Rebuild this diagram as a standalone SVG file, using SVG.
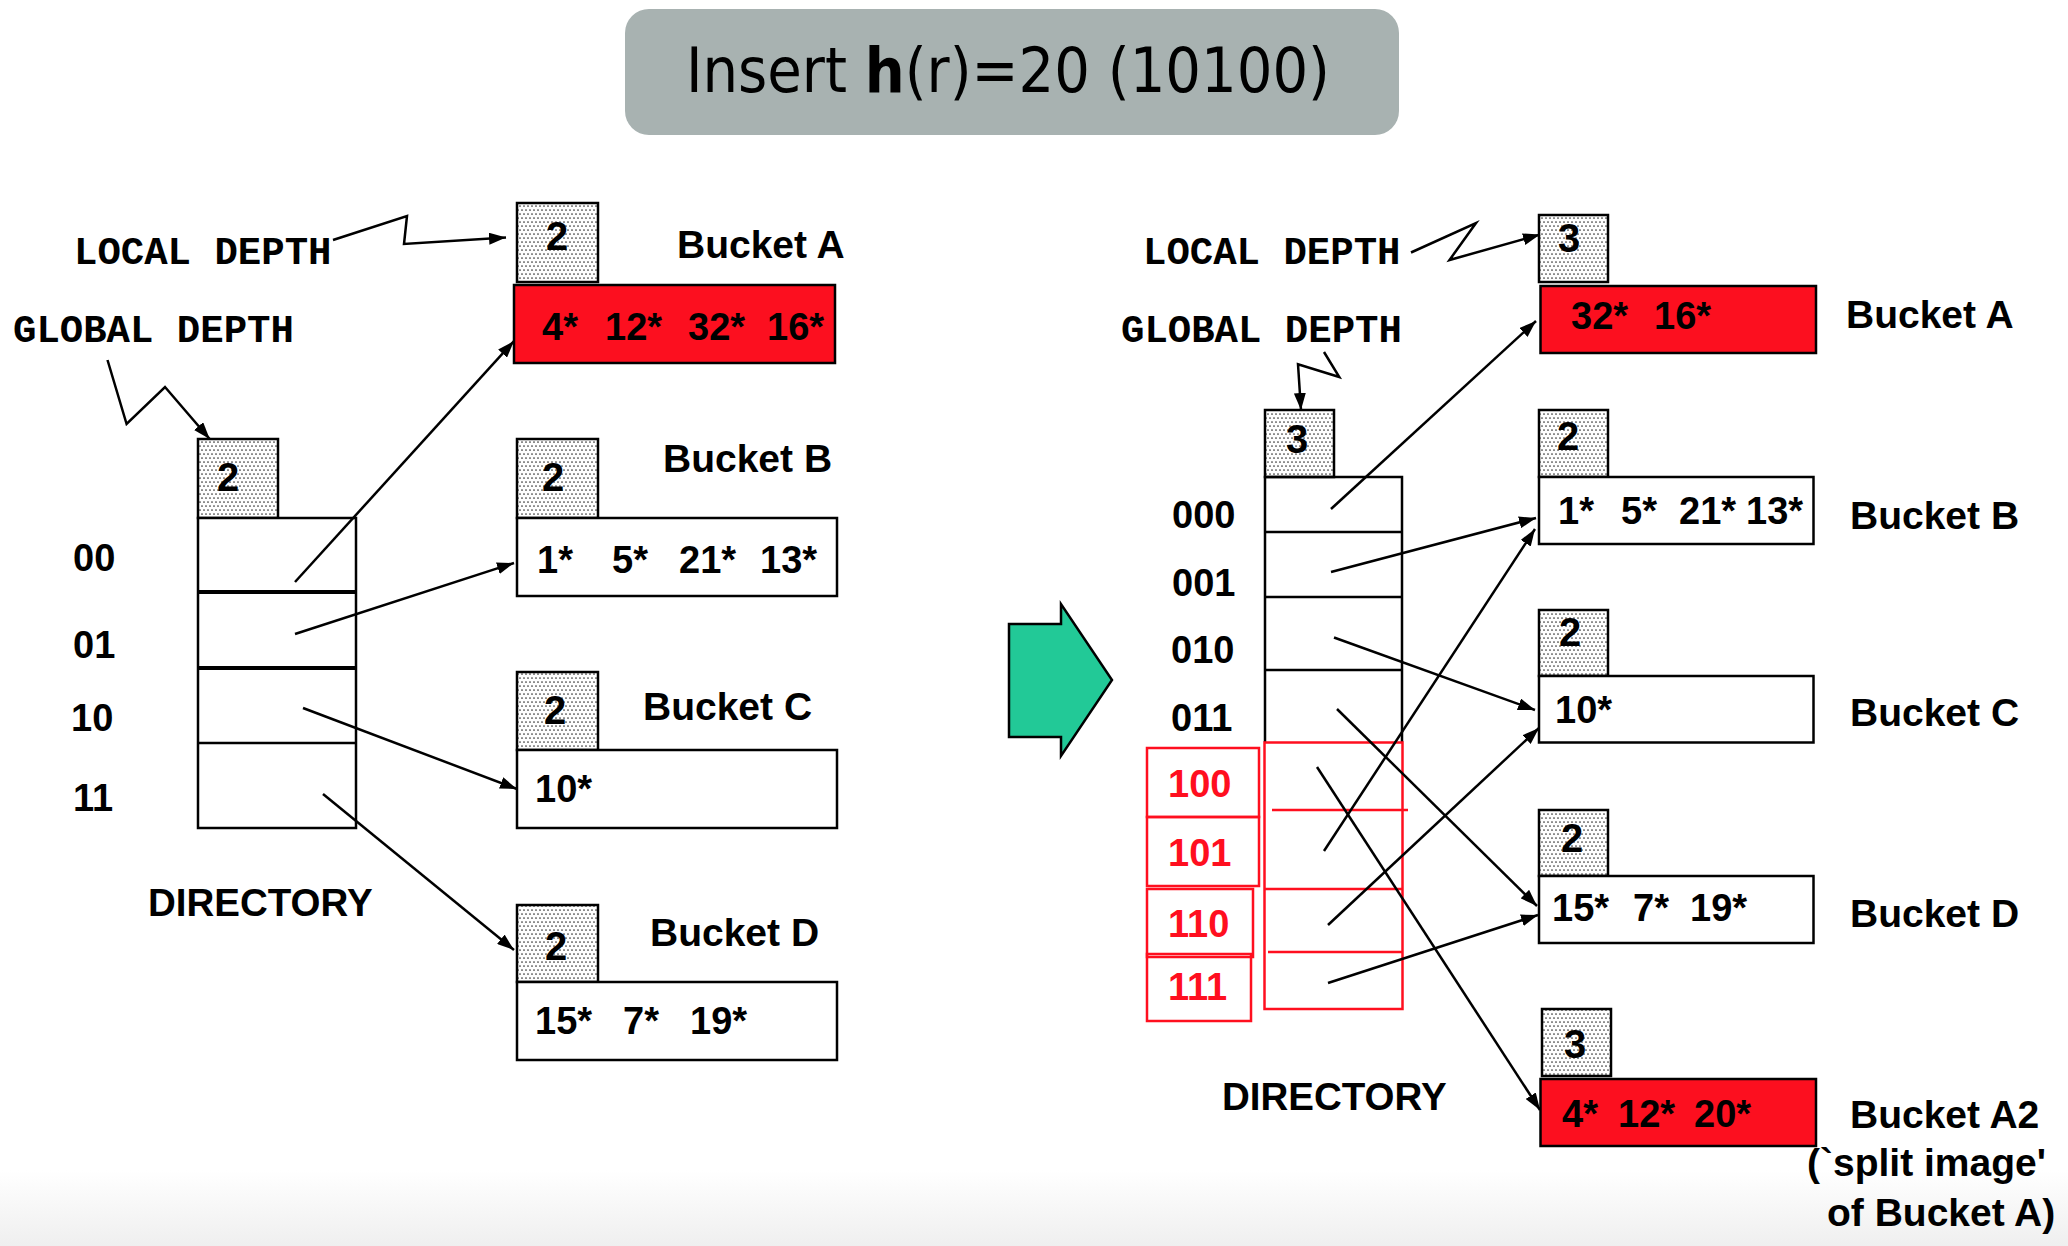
<svg xmlns="http://www.w3.org/2000/svg" width="2068" height="1246" viewBox="0 0 2068 1246">
<defs>
<pattern id="dots" width="8" height="8" patternUnits="userSpaceOnUse">
<rect width="8" height="8" fill="#ffffff"/>
<circle cx="2" cy="2" r="0.85" fill="#333"/>
<circle cx="6" cy="2" r="0.85" fill="#333"/>
<circle cx="0" cy="6" r="0.85" fill="#333"/>
<circle cx="4" cy="6" r="0.85" fill="#333"/>
<circle cx="8" cy="6" r="0.85" fill="#333"/>
</pattern>
<marker id="ah" markerWidth="17" markerHeight="12" refX="17" refY="6" orient="auto" markerUnits="userSpaceOnUse">
<path d="M0,0 L17,6 L0,12 z" fill="#000"/>
</marker>
<linearGradient id="floor" x1="0" y1="0" x2="0" y2="1">
<stop offset="0" stop-color="#ffffff"/>
<stop offset="1" stop-color="#efefef"/>
</linearGradient>
</defs>
<style>
.depth{fill:url(#dots);stroke:#000;stroke-width:2.5}
.bk{fill:#fff;stroke:#000;stroke-width:2.5}
.red{fill:#fc0f1f;stroke:#000;stroke-width:2.5}
.rbox{fill:none;stroke:#ff0f1f;stroke-width:2.5}
.dir{fill:#fff;stroke:#000;stroke-width:2.5}
.b{font-family:"Liberation Sans",Arial,sans-serif;font-weight:bold;fill:#000}
.lbl{font-size:39px}
.ent{font-size:38px}
.num{font-size:40px;text-anchor:middle}
.mono{font-family:"Liberation Mono","Courier New",monospace;font-weight:bold;font-size:39px;fill:#000}
.rt{fill:#ff0f1f}
.con{stroke:#000;stroke-width:2.5;fill:none}
.arr{marker-end:url(#ah)}
</style>
<rect x="0" y="0" width="2068" height="1246" fill="#ffffff"/>
<rect x="0" y="1170" width="2068" height="76" fill="url(#floor)"/>

<g id="title">
<rect x="625" y="9" width="774" height="126" rx="24" fill="#a8b2b1"/>
<text x="686" y="92" font-family="DejaVu Sans Condensed, DejaVu Sans, sans-serif" font-size="62" textLength="644" lengthAdjust="spacingAndGlyphs" fill="#000">Insert <tspan font-weight="bold">h</tspan>(r)=20 (10100)</text>
</g>

<!-- LEFT SIDE -->
<g id="left-local-depth-label">
<text class="mono" x="74" y="264">LOCAL DEPTH</text>
</g>
<g id="left-global-depth-label">
<text class="mono" x="13" y="342">GLOBAL DEPTH</text>
</g>

<g id="left-directory">
<rect class="depth" x="198" y="439" width="80" height="79"/>
<text class="b num" x="228" y="491">2</text>
<rect class="dir" x="198" y="518" width="158" height="310"/>
<line x1="198" y1="592" x2="356" y2="592" stroke="#000" stroke-width="4"/>
<line x1="198" y1="668" x2="356" y2="668" stroke="#000" stroke-width="4"/>
<line x1="198" y1="743" x2="356" y2="743" stroke="#000" stroke-width="2.5"/>
<text class="b ent" x="73" y="571">00</text>
<text class="b ent" x="73" y="658">01</text>
<text class="b ent" x="71" y="731">10</text>
<text class="b ent" x="73" y="811">11</text>
<text class="b" font-size="38.5" x="148" y="916">DIRECTORY</text>
</g>

<g id="left-bucket-a">
<rect class="depth" x="517" y="203" width="81" height="79"/>
<text class="b num" x="557" y="250">2</text>
<rect class="red" x="514" y="285" width="321" height="78"/>
<text class="b ent" y="340"><tspan x="542">4*</tspan><tspan x="605">12*</tspan><tspan x="688">32*</tspan><tspan x="767">16*</tspan></text>
<text class="b lbl" x="677" y="258">Bucket A</text>
</g>

<g id="left-bucket-b">
<rect class="depth" x="517" y="439" width="81" height="79"/>
<text class="b num" x="553" y="491">2</text>
<rect class="bk" x="517" y="518" width="320" height="78"/>
<text class="b ent" y="573"><tspan x="537">1*</tspan><tspan x="612">5*</tspan><tspan x="679">21*</tspan><tspan x="760">13*</tspan></text>
<text class="b lbl" x="663" y="472">Bucket B</text>
</g>

<g id="left-bucket-c">
<rect class="depth" x="517" y="672" width="81" height="78"/>
<text class="b num" x="555" y="724">2</text>
<rect class="bk" x="517" y="750" width="320" height="78"/>
<text class="b ent" x="535" y="802">10*</text>
<text class="b lbl" x="643" y="720">Bucket C</text>
</g>

<g id="left-bucket-d">
<rect class="depth" x="517" y="905" width="81" height="77"/>
<text class="b num" x="556" y="960">2</text>
<rect class="bk" x="517" y="982" width="320" height="78"/>
<text class="b ent" y="1034"><tspan x="535">15*</tspan><tspan x="623">7*</tspan><tspan x="690">19*</tspan></text>
<text class="b lbl" x="650" y="946">Bucket D</text>
</g>

<!-- GREEN ARROW -->
<g id="transition-arrow">
<polygon points="1009,624 1061,624 1061,604 1112,680 1061,756 1061,737 1009,737" fill="#22c997" stroke="#000" stroke-width="2.5"/>
</g>

<!-- RIGHT SIDE -->
<g id="right-local-depth-label">
<text class="mono" x="1143" y="264">LOCAL DEPTH</text>
</g>
<g id="right-global-depth-label">
<text class="mono" x="1121" y="342">GLOBAL DEPTH</text>
</g>

<g id="right-directory">
<rect class="depth" x="1265" y="410" width="69" height="67"/>
<text class="b num" x="1297" y="453">3</text>
<path d="M1265,742 L1265,477 L1402,477 L1402,742" class="con"/>
<line x1="1265" y1="532" x2="1402" y2="532" stroke="#000" stroke-width="2.5"/>
<line x1="1265" y1="597" x2="1402" y2="597" stroke="#000" stroke-width="2.5"/>
<line x1="1265" y1="670" x2="1402" y2="670" stroke="#000" stroke-width="2.5"/>
<rect class="rbox" x="1264.5" y="742.5" width="138" height="266.5"/>
<line x1="1272" y1="810" x2="1408" y2="810" stroke="#ff0f1f" stroke-width="2.5"/>
<line x1="1264.5" y1="889" x2="1402.5" y2="889" stroke="#ff0f1f" stroke-width="2.5"/>
<line x1="1268" y1="952" x2="1403" y2="952" stroke="#ff0f1f" stroke-width="2.5"/>
<text class="b ent" x="1172" y="528">000</text>
<text class="b ent" x="1172" y="596">001</text>
<text class="b ent" x="1171" y="663">010</text>
<text class="b ent" x="1171" y="731">011</text>
<rect class="rbox" x="1147" y="748" width="112" height="69"/>
<rect class="rbox" x="1147" y="817" width="112" height="69"/>
<rect class="rbox" x="1147" y="889" width="106" height="68"/>
<rect class="rbox" x="1147" y="954" width="104" height="67"/>
<text class="b ent rt" x="1168" y="797">100</text>
<text class="b ent rt" x="1168" y="866">101</text>
<text class="b ent rt" x="1168" y="937">110</text>
<text class="b ent rt" x="1168" y="1000">111</text>
<text class="b" font-size="38.5" x="1222" y="1110">DIRECTORY</text>
</g>

<g id="right-bucket-a">
<rect class="depth" x="1539" y="215" width="69" height="67"/>
<text class="b num" x="1569" y="252">3</text>
<rect class="red" x="1540.5" y="286" width="275.5" height="67"/>
<text class="b ent" y="329"><tspan x="1571">32*</tspan><tspan x="1654">16*</tspan></text>
<text class="b lbl" x="1846" y="328">Bucket A</text>
</g>

<g id="right-bucket-b">
<rect class="depth" x="1539" y="410" width="69" height="67"/>
<text class="b num" x="1568" y="450">2</text>
<rect class="bk" x="1539" y="477" width="274.5" height="67"/>
<text class="b ent" y="524"><tspan x="1558">1*</tspan><tspan x="1621">5*</tspan><tspan x="1679">21*</tspan><tspan x="1746">13*</tspan></text>
<text class="b lbl" x="1850" y="529">Bucket B</text>
</g>

<g id="right-bucket-c">
<rect class="depth" x="1539" y="610" width="69" height="66"/>
<text class="b num" x="1570" y="646">2</text>
<rect class="bk" x="1539" y="676" width="274.5" height="66.5"/>
<text class="b ent" x="1555" y="723">10*</text>
<text class="b lbl" x="1850" y="726">Bucket C</text>
</g>

<g id="right-bucket-d">
<rect class="depth" x="1539" y="810" width="69" height="66"/>
<text class="b num" x="1572" y="852">2</text>
<rect class="bk" x="1539" y="876" width="274.5" height="67"/>
<text class="b ent" y="921"><tspan x="1552">15*</tspan><tspan x="1633">7*</tspan><tspan x="1690">19*</tspan></text>
<text class="b lbl" x="1850" y="927">Bucket D</text>
</g>

<g id="right-bucket-a2">
<rect class="depth" x="1542" y="1009" width="69" height="67"/>
<text class="b num" x="1575" y="1058">3</text>
<rect class="red" x="1540.5" y="1079" width="275.5" height="67"/>
<text class="b ent" y="1127"><tspan x="1562">4*</tspan><tspan x="1618">12*</tspan><tspan x="1694">20*</tspan></text>
<text class="b lbl" x="1850" y="1128">Bucket A2</text>
<text class="b lbl" x="1807" y="1176">(`split image'</text>
<text class="b lbl" x="1827" y="1226">of Bucket A)</text>
</g>

<g id="connectors">
<polyline class="con arr" points="333,240 407,216 404,244 506,237.6"/>
<polyline class="con arr" points="107.5,360 126.6,424 165,387 209.7,439"/>
<line class="con arr" x1="295" y1="582" x2="514" y2="341"/>
<line class="con arr" x1="295" y1="634" x2="514" y2="563"/>
<line class="con arr" x1="303" y1="708" x2="517" y2="789"/>
<line class="con arr" x1="323" y1="794" x2="514" y2="950"/>
<polyline class="con arr" points="1411,252.5 1476,223 1449.5,260 1540,234.6"/>
<polyline class="con arr" points="1324,352 1339.3,377 1298,364.3 1301,410"/>
<line class="con arr" x1="1331" y1="509" x2="1536" y2="321"/>
<line class="con arr" x1="1331" y1="572" x2="1536" y2="518"/>
<line class="con arr" x1="1324" y1="851" x2="1535" y2="529"/>
<line class="con arr" x1="1334" y1="637.5" x2="1535" y2="710"/>
<line class="con arr" x1="1328" y1="925" x2="1539" y2="728"/>
<line class="con arr" x1="1337" y1="709" x2="1537" y2="906"/>
<line class="con arr" x1="1328" y1="983" x2="1538" y2="915"/>
<line class="con arr" x1="1317" y1="767" x2="1540" y2="1110"/>
</g>
</svg>
